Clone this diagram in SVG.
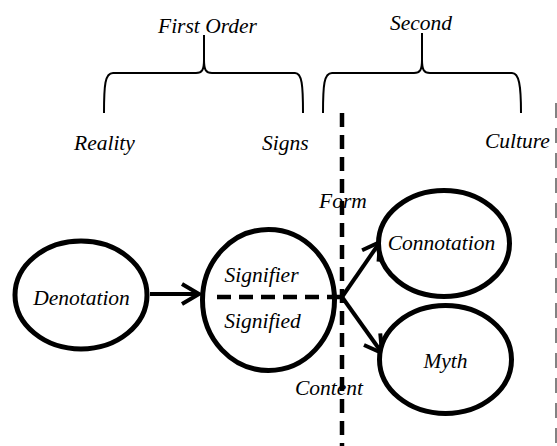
<svg xmlns="http://www.w3.org/2000/svg" width="557" height="446" viewBox="0 0 557 446">
<style>
  text { font-family: "Liberation Serif", "Times New Roman", serif; font-style: italic; font-size: 21.5px; fill: #000; }
  .node { fill: #fff; stroke: #000; stroke-width: 5; }
  .brace { fill: none; stroke: #000; stroke-width: 2; }
  .arrow { fill: none; stroke: #000; stroke-width: 4; marker-end: url(#chev); }
  .dash { fill: none; stroke: #000; stroke-width: 4.5; stroke-dasharray: 14 8; }
  .thin { fill: none; stroke: #5a5a5a; stroke-width: 1.5; stroke-dasharray: 15 10; }
</style>
<defs>
  <marker id="chev" markerUnits="userSpaceOnUse" viewBox="-20 -12 24 24" refX="0" refY="0" markerWidth="24" markerHeight="24" orient="auto">
    <path d="M-17,-10 L0,0 L-17,10" fill="none" stroke="#000" stroke-width="4" stroke-linejoin="miter"/>
  </marker>
</defs>
<rect width="557" height="446" fill="#fff"/>

<g id="braces">
  <path class="brace" d="M104,113 C104,85 105,73 113,73 L196,73 C202,73 204,70 204,60 L204,35 M204,60 C204,70 206,73 212,73 L295,73 C302,73 303,85 303,113"/>
  <path class="brace" d="M323,113 C323,85 324,73 332,73 L414,73 C420,73 422,70 422,60 L422,33 M422,60 C422,70 424,73 430,73 L512,73 C519,73 521,85 521,113"/>
</g>

<g id="labels">
  <text x="158" y="33">First Order</text>
  <text x="390" y="30">Second</text>
  <text x="74" y="150">Reality</text>
  <text x="262" y="150">Signs</text>
  <text x="485" y="148">Culture</text>
</g>

<g id="connectors">
  <line class="thin" x1="556" y1="103" x2="556" y2="446"/>
  <line class="dash" x1="342" y1="113" x2="342" y2="446"/>
  <line class="arrow" x1="150" y1="294" x2="199" y2="294"/>
  <line class="arrow" x1="342" y1="297" x2="380" y2="242"/>
  <line class="arrow" x1="342" y1="297" x2="382" y2="353"/>
</g>

<g id="denotation">
  <ellipse class="node" cx="81" cy="295" rx="66" ry="54"/>
  <text x="81.5" y="305" text-anchor="middle">Denotation</text>
</g>

<g id="sign">
  <ellipse class="node" cx="268.5" cy="300" rx="66" ry="70.5"/>
  <line class="dash" x1="217" y1="297" x2="342" y2="297"/>
  <text x="261.5" y="282" text-anchor="middle">Signifier</text>
  <text x="262.5" y="328" text-anchor="middle">Signified</text>
</g>

<g id="connotation">
  <ellipse class="node" cx="444" cy="243.5" rx="65.5" ry="53"/>
  <text x="441.5" y="250" text-anchor="middle">Connotation</text>
</g>

<g id="myth">
  <ellipse class="node" cx="445.5" cy="359.5" rx="66" ry="54"/>
  <text x="445.5" y="368" text-anchor="middle">Myth</text>
</g>

<g id="axis-labels">
  <text x="319" y="208">Form</text>
  <text x="295" y="395">Content</text>
</g>
</svg>
